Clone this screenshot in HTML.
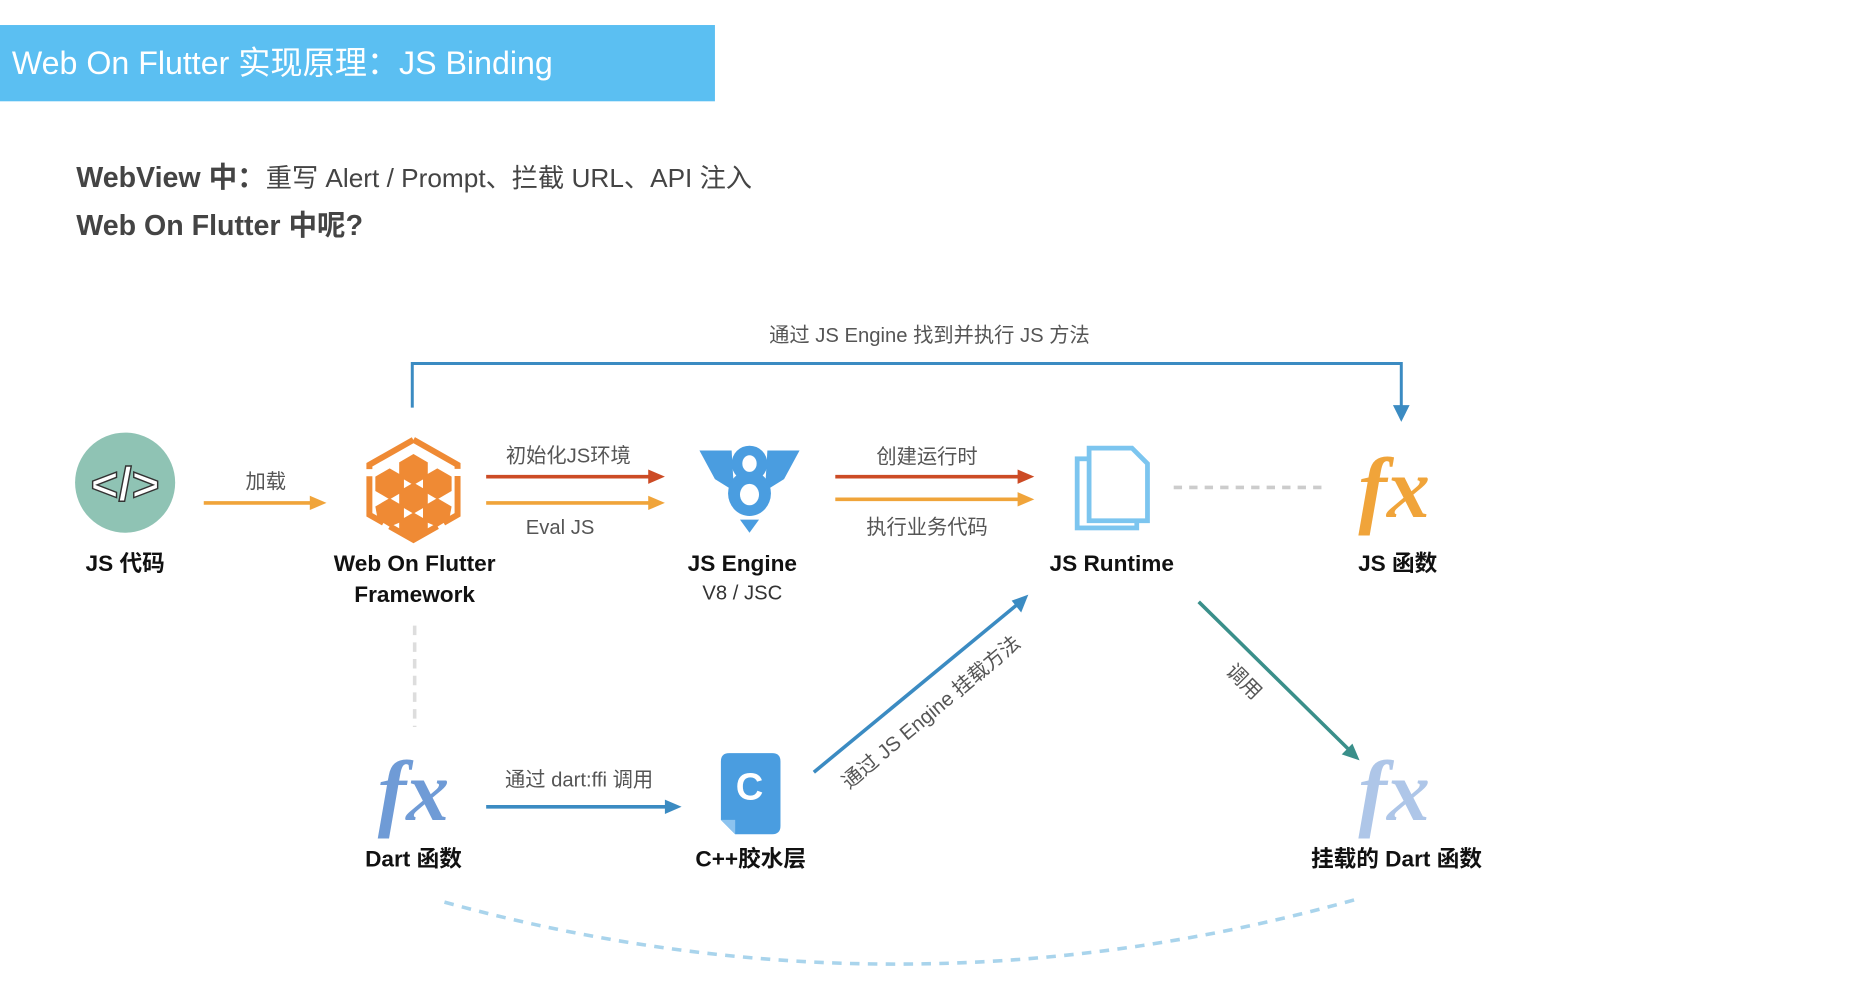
<!DOCTYPE html>
<html><head><meta charset="utf-8"><style>
html,body{margin:0;padding:0;background:#fff;width:1866px;height:1007px;overflow:hidden}
svg{display:block}
text{font-family:"Liberation Sans","Noto Sans CJK SC",sans-serif}
.b{font-weight:bold;fill:#111;font-size:19px}
.l{fill:#555;font-size:17px}
.fx{font-family:"Liberation Serif","DejaVu Serif",serif;font-style:italic;font-weight:bold;font-size:72px}
</style></head><body>
<svg width="1866" height="1007" viewBox="0 0 1566 845" preserveAspectRatio="none">
<!-- header -->
<rect x="0" y="21" width="600" height="64" fill="#5bbff2"/>
<text x="10" y="62" fill="#fff" font-size="27">Web On Flutter 实现原理：JS Binding</text>
<text x="64" y="157" fill="#444" font-size="24"><tspan font-weight="bold">WebView 中：</tspan><tspan font-size="22">重写 Alert / Prompt、拦截 URL、API 注入</tspan></text>
<text x="64" y="197" fill="#444" font-size="24" font-weight="bold">Web On Flutter 中呢?</text>

<!-- top bracket -->
<text x="780" y="287" class="l" text-anchor="middle">通过 JS Engine 找到并执行 JS 方法</text>
<polyline points="346,342 346,305 1176,305 1176,342" fill="none" stroke="#3b8bc2" stroke-width="2.5"/>
<path d="M1169,340 L1183,340 L1176,354z" fill="#3b8bc2"/>

<!-- JS code -->
<circle cx="105" cy="405" r="42" fill="#8fc3b4"/>
<text x="105" y="420" text-anchor="middle" font-size="40" font-weight="bold" fill="#fff" stroke="#333" stroke-width="1.2">&lt;/&gt;</text>
<text x="105" y="479" class="b" text-anchor="middle">JS 代码</text>
<text x="223" y="410" class="l" text-anchor="middle">加载</text>
<line x1="171" y1="422" x2="262" y2="422" stroke="#f0a43a" stroke-width="3"/>
<path d="M260,416 L274,422 L260,428z" fill="#f0a43a"/>

<!-- hex framework -->
<g fill="none" stroke="#ef8a34" stroke-width="5">
<polygon points="347,369 384,390 384,432 347,453 310,432 310,390" stroke-dasharray="46 6"/>
</g>
<g fill="#ef8a34">
<polygon points="347,381 359,388 359,400 347,407 335,400 335,388"/>
<polygon points="327,393 339,400 339,412 327,419 315,412 315,400"/>
<polygon points="367,393 379,400 379,412 367,419 355,412 355,400"/>
<polygon points="347,405 359,412 359,424 347,431 335,424 335,412"/>
<polygon points="327,418 339,425 339,437 327,442 317,436 315,425"/>
<polygon points="367,418 379,425 377,436 367,442 355,437 355,425"/>
<polygon points="347,430 359,437 359,446 347,451 335,446 335,437"/>
</g>
<text x="348" y="479" class="b" text-anchor="middle">Web On Flutter</text>
<text x="348" y="505" class="b" text-anchor="middle">Framework</text>

<!-- arrows to engine -->
<text x="477" y="388" class="l" text-anchor="middle">初始化JS环境</text>
<line x1="408" y1="400" x2="546" y2="400" stroke="#cc4b25" stroke-width="3"/>
<path d="M544,394 L558,400 L544,406z" fill="#cc4b25"/>
<line x1="408" y1="422" x2="546" y2="422" stroke="#f0a43a" stroke-width="3"/>
<path d="M544,416 L558,422 L544,428z" fill="#f0a43a"/>
<text x="470" y="448" class="l" text-anchor="middle">Eval JS</text>

<!-- V8 -->
<g fill="#4a9de0">
<path d="M587,378 L614,378 L616,412 L600,402z"/>
<path d="M671,378 L644,378 L642,412 L658,402z"/>
<ellipse cx="629" cy="389" rx="15" ry="15"/>
<ellipse cx="629" cy="414" rx="18" ry="19"/>
<path d="M621,436 L637,436 L629,447z"/>
</g>
<ellipse cx="629" cy="389" rx="6" ry="7" fill="#fff"/>
<ellipse cx="629" cy="415" rx="8" ry="9" fill="#fff"/>
<text x="623" y="479" class="b" text-anchor="middle">JS  Engine</text>
<text x="623" y="503" font-size="17" fill="#333" text-anchor="middle">V8 / JSC</text>

<!-- arrows to runtime -->
<text x="778" y="389" class="l" text-anchor="middle">创建运行时</text>
<line x1="701" y1="400" x2="856" y2="400" stroke="#cc4b25" stroke-width="3"/>
<path d="M854,394 L868,400 L854,406z" fill="#cc4b25"/>
<line x1="701" y1="419" x2="856" y2="419" stroke="#f0a43a" stroke-width="3"/>
<path d="M854,413 L868,419 L854,425z" fill="#f0a43a"/>
<text x="778" y="448" class="l" text-anchor="middle">执行业务代码</text>

<!-- runtime doc -->
<g fill="#fff" stroke="#7cc5ef" stroke-width="4">
<rect x="904" y="385" width="50" height="58"/>
<path d="M914,376 L950,376 L963,389 L963,437 L914,437z"/>
</g>
<text x="933" y="479" class="b" text-anchor="middle">JS  Runtime</text>
<line x1="985" y1="409" x2="1112" y2="409" stroke="#ccc" stroke-width="3" stroke-dasharray="7 6"/>

<!-- JS fx -->
<text x="1170" y="434" class="fx" fill="#f0a43a" text-anchor="middle">fx</text>
<text x="1173" y="479" class="b" text-anchor="middle">JS 函数</text>

<!-- vertical dashed -->
<line x1="348" y1="525" x2="348" y2="610" stroke="#ddd" stroke-width="3" stroke-dasharray="8 6"/>

<!-- Dart fx -->
<text x="347" y="688" class="fx" fill="#6f9bd6" text-anchor="middle">fx</text>
<text x="347" y="727" class="b" text-anchor="middle">Dart 函数</text>
<text x="486" y="660" class="l" text-anchor="middle">通过 dart:ffi 调用</text>
<line x1="408" y1="677" x2="560" y2="677" stroke="#3b8bc2" stroke-width="3"/>
<path d="M558,671 L572,677 L558,683z" fill="#3b8bc2"/>

<!-- C icon -->
<path d="M612,632 L648,632 Q655,632 655,639 L655,693 Q655,700 648,700 L617,700 L605,688 L605,639 Q605,632 612,632z" fill="#4a9de0"/>
<path d="M605,688 L617,688 L617,700z" fill="#8cc3ef"/>
<text x="629" y="671" font-size="32" font-weight="bold" fill="#fff" text-anchor="middle">C</text>
<text x="630" y="727" class="b" text-anchor="middle">C++胶水层</text>

<!-- diagonal blue -->
<line x1="683" y1="648" x2="854" y2="507" stroke="#3b8bc2" stroke-width="3"/>
<path d="M863,499 L857,514 L849,504z" fill="#3b8bc2"/>
<text x="0" y="0" class="l" text-anchor="middle" transform="translate(785,602) rotate(-40)">通过 JS Engine 挂载方法</text>

<!-- teal -->
<line x1="1006" y1="505" x2="1133" y2="630" stroke="#3a8f8a" stroke-width="3"/>
<path d="M1141,638 L1126,633 L1135,624z" fill="#3a8f8a"/>
<text x="0" y="0" class="l" text-anchor="middle" transform="translate(1040,576) rotate(45)">调用</text>

<!-- mounted fx -->
<text x="1170" y="688" class="fx" fill="#aec6e8" text-anchor="middle">fx</text>
<text x="1172" y="727" class="b" text-anchor="middle">挂载的 Dart 函数</text>

<!-- bottom dashed curve -->
<path d="M373,757 Q755,862 1137,755" fill="none" stroke="#a9d4ec" stroke-width="3" stroke-dasharray="8 7"/>
</svg>
</body></html>
